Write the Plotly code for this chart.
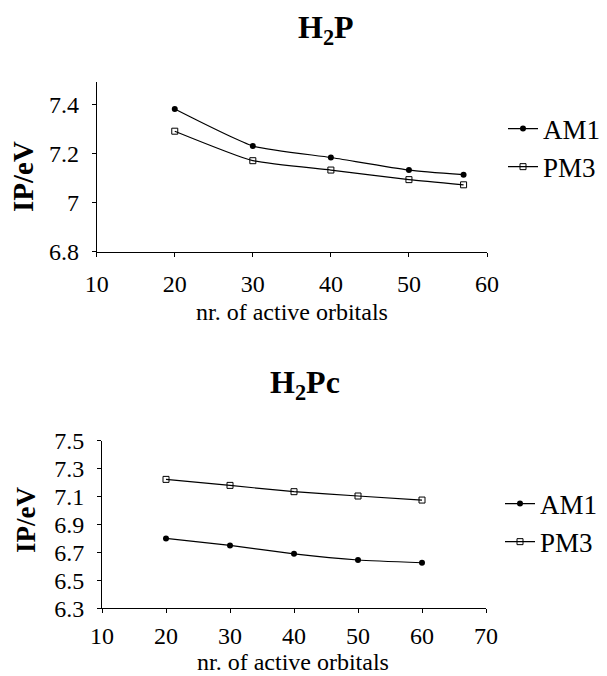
import plotly.graph_objects as go

# H2P
h2p_orbitals = [20, 30, 40, 50, 57]
h2p_am1 = [7.38, 7.23, 7.183, 7.132, 7.113]
h2p_pm3 = [7.29, 7.17, 7.132, 7.093, 7.072]

# H2Pc
h2pc_orbitals = [20, 30, 40, 50, 60]
h2pc_am1 = [6.80, 6.75, 6.69, 6.646, 6.626]
h2pc_pm3 = [7.223, 7.18, 7.135, 7.104, 7.075]

top_yticks = [6.8, 7.0, 7.2, 7.4]
top_yticktext = ["6.8", "7", "7.2", "7.4"]
top_xticks = [10, 20, 30, 40, 50, 60]
bot_yticks = [6.3, 6.5, 6.7, 6.9, 7.1, 7.3, 7.5]
bot_yticktext = ["6.3", "6.5", "6.7", "6.9", "7.1", "7.3", "7.5"]
bot_xticks = [10, 20, 30, 40, 50, 60, 70]

# the page body has an 8px margin, so the figure is drawn 8px in from the window corner
PAGE_W, PAGE_H, OFF = 607, 676, 8
W, H = PAGE_W - OFF, PAGE_H - OFF
SERIF = "Liberation Serif"


def px(x):
    return (x - OFF) / W


def py(y):
    return 1 - (y - OFF) / H


line = dict(color="black", width=1.2, shape="spline", smoothing=0.5)
am1_marker = dict(symbol="circle", size=6, color="black")
pm3_marker = dict(symbol="square-open", size=6, color="black", line=dict(width=1))

fig = go.Figure()
fig.add_trace(go.Scatter(x=h2p_orbitals, y=h2p_am1, name="AM1", mode="lines+markers",
                         line=line, marker=am1_marker, xaxis="x", yaxis="y", legend="legend"))
fig.add_trace(go.Scatter(x=h2p_orbitals, y=h2p_pm3, name="PM3", mode="lines+markers",
                         line=line, marker=pm3_marker, xaxis="x", yaxis="y", legend="legend"))
fig.add_trace(go.Scatter(x=h2pc_orbitals, y=h2pc_am1, name="AM1", mode="lines+markers",
                         line=line, marker=am1_marker, xaxis="x2", yaxis="y2", legend="legend2"))
fig.add_trace(go.Scatter(x=h2pc_orbitals, y=h2pc_pm3, name="PM3", mode="lines+markers",
                         line=line, marker=pm3_marker, xaxis="x2", yaxis="y2", legend="legend2"))

axis_common = dict(showgrid=False, zeroline=False, showline=True, linecolor="black",
                   linewidth=1, ticks="outside", ticklen=4, tickcolor="black",
                   automargin=False,
                   tickfont=dict(family=SERIF, size=24, color="black"))

legend_common = dict(font=dict(family=SERIF, size=27, color="black"), bgcolor="rgba(0,0,0,0)",
                     itemwidth=30, tracegroupgap=0, xanchor="left", yanchor="middle")

fig.update_layout(
    width=W, height=H,
    margin=dict(l=0, r=0, t=0, b=0, autoexpand=False),
    paper_bgcolor="white", plot_bgcolor="white",
    xaxis=dict(domain=[px(96.7), px(487)], range=[10, 60], tickvals=top_xticks,
               anchor="y", ticklabelstandoff=6, **axis_common),
    yaxis=dict(domain=[py(251.7), py(82)], range=[6.8, 7.49], tickvals=top_yticks,
               ticktext=top_yticktext, anchor="x", ticklabelstandoff=8, **axis_common),
    xaxis2=dict(domain=[px(102), px(486)], range=[10, 70], tickvals=bot_xticks,
                anchor="y2", ticklabelstandoff=2, **axis_common),
    yaxis2=dict(domain=[py(608.3), py(440.7)], range=[6.3, 7.5], tickvals=bot_yticks,
                ticktext=bot_yticktext, anchor="x2", ticklabelstandoff=8, **axis_common),
    legend=dict(x=px(503), y=py(148), **legend_common),
    legend2=dict(x=px(500), y=py(523), **legend_common),
    showlegend=True,
)

annotations = [
    dict(text="<b>H<sub>2</sub>P</b>", x=px(326), y=py(29), size=32),
    dict(text="<b>H<sub>2</sub>Pc</b>", x=px(305), y=py(384), size=32),
    dict(text="nr. of active orbitals", x=px(292), y=py(312), size=24),
    dict(text="nr. of active orbitals", x=px(293), y=py(662), size=24),
    dict(text="<b>IP/eV</b>", x=px(23), y=py(177), textangle=-90, size=29),
    dict(text="<b>IP/eV</b>", x=px(26), y=py(520), textangle=-90, size=27),
]
for a in annotations:
    a["font"] = dict(family=SERIF, size=a.pop("size"), color="black")
    a.update(xref="paper", yref="paper", showarrow=False, xanchor="center", yanchor="middle")
fig.update_layout(annotations=annotations)

fig.write_html("out.html")
